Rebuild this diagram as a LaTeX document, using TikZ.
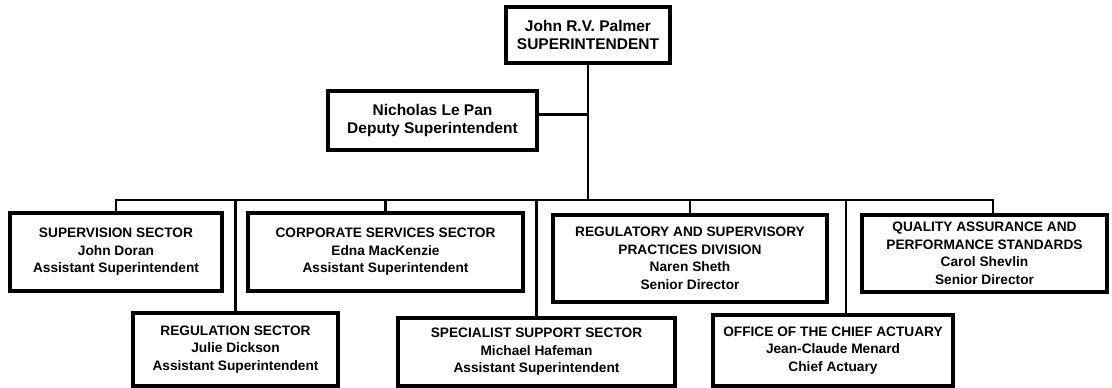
\documentclass[tikz,border=0pt]{standalone}
\usepackage{fontspec}
\setmainfont{Liberation Sans}
\begin{document}
\begin{tikzpicture}[x=1pt,y=-1pt,
  box/.style={draw, line width=3.2pt, inner sep=0pt, align=center,
    font=\fontsize{13.7}{17.5}\selectfont\bfseries},
  bigbox/.style={box, font=\fontsize{15.5}{18.5}\selectfont\bfseries},
  conn/.style={line width=2.8pt}]
\useasboundingbox (0,0) rectangle (1112,388);

\node[bigbox, minimum width=164pt, minimum height=56pt] (top) at (588,35) {John R.V. Palmer\\SUPERINTENDENT};
\node[bigbox, minimum width=209pt, minimum height=59pt] (dep) at (432.5,120.5) {Nicholas Le Pan\\Deputy Superintendent};

\node[box, minimum width=212pt, minimum height=78pt] (sup) at (116,252) {SUPERVISION SECTOR\\John Doran\\Assistant Superintendent};
\node[box, minimum width=275pt, minimum height=78pt] (corp) at (385.5,252) {CORPORATE SERVICES SECTOR\\Edna MacKenzie\\Assistant Superintendent};
\node[box, minimum width=274pt, minimum height=87pt] (regu) at (690,258.5) {REGULATORY AND SUPERVISORY\\PRACTICES DIVISION\\Naren Sheth\\Senior Director};
\node[box, minimum width=245pt, minimum height=77pt] (qa) at (984.5,253.5) {QUALITY ASSURANCE AND\\PERFORMANCE STANDARDS\\Carol Shevlin\\Senior Director};

\node[box, minimum width=205pt, minimum height=73pt] (rs) at (235.5,349.5) {REGULATION SECTOR\\Julie Dickson\\Assistant Superintendent};
\node[box, minimum width=277pt, minimum height=68pt] (spec) at (536.5,352) {SPECIALIST SUPPORT SECTOR\\Michael Hafeman\\Assistant Superintendent};
\node[box, minimum width=240pt, minimum height=71pt] (off) at (833,350.5) {OFFICE OF THE CHIEF ACTUARY\\Jean-Claude Menard\\Chief Actuary};

\coordinate (bus) at (588,200);
\coordinate (qatop) at ([xshift=8.5pt]qa.north);
\coordinate (offtop) at ([xshift=13pt]off.north);
\coordinate (depc) at ([yshift=6pt]dep.east);

\draw[conn] (top.south) -- (top.south |- bus);
\draw[conn] (depc) -- (depc -| top.south);
\draw[conn] (sup.north) -- (sup.north |- bus) -- (qatop |- bus) -- (qatop);
\draw[conn] (corp.north) -- (corp.north |- bus);
\draw[conn] (regu.north) -- (regu.north |- bus);
\draw[conn] (rs.north) -- (rs.north |- bus);
\draw[conn] (spec.north) -- (spec.north |- bus);
\draw[conn] (offtop) -- (offtop |- bus);
\end{tikzpicture}
\end{document}
